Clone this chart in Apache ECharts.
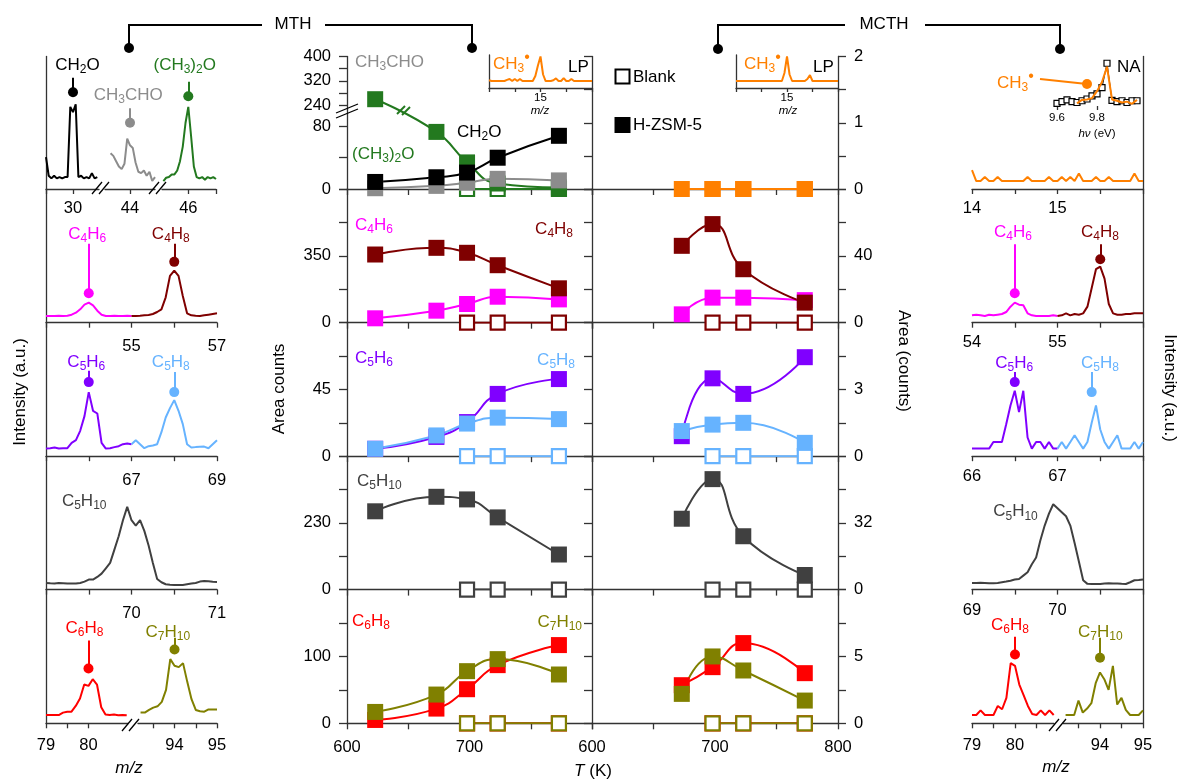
<!DOCTYPE html>
<html>
<head>
<meta charset="utf-8">
<script src="https://cdn.jsdelivr.net/npm/echarts@6.0.0/dist/echarts.min.js"></script>
<style>
html,body{margin:0;padding:0;background:#fff;}
#chart{width:1179px;height:781px;}
</style>
</head>
<body>
<div id="chart"></div>
<script>
// ======================= DATA =======================
// Middle panels: temperatures (K)
const T_MTH = [623, 673, 698, 723, 773];
const T_MCTH = [673, 698, 723, 773];
const T_BLANK = [698, 723, 773];
const BLANK_VALUES = [0, 0, 0];

// MTH, H-ZSM-5 (left axis, area counts)
const MTH_CH3OCH3 = [260, 73, 34, 7, 2];
const MTH_CH3CHO = [1, 4, 8, 13, 11];
const MTH_CH2O = [9, 15, 21, 40, 68];
const MTH_C4H6 = [23, 63, 98, 136, 122];
const MTH_C4H8 = [357, 392, 366, 301, 180];
const MTH_C5H6 = [5, 13, 23, 42, 52];
const MTH_C5H8 = [5, 14, 22, 26, 25];
const MTH_C5H10 = [270, 320, 311, 249, 121];
const MTH_C6H8 = [5, 22, 51, 87, 117];
const MTH_C7H10 = [17, 43, 78, 96, 73];

// MCTH, H-ZSM-5 (right axis, area counts)
const MCTH_CH3 = [0, 0, 0, 0];
const MCTH_C4H6 = [5, 15, 15, 13.5];
const MCTH_C4H8 = [46, 59, 32, 12];
const MCTH_C5H6 = [0.9, 3.5, 2.8, 4.45];
const MCTH_C5H8 = [1.13, 1.42, 1.5, 0.6];
const MCTH_C5H10 = [34, 53, 25.6, 7];
const MCTH_C6H8 = [2.85, 4.2, 6.0, 3.75];
const MCTH_C7H10 = [2.2, 5.0, 3.95, 1.7];

// Tick labels of the middle panels
const T_LABELS_MTH = [600, 700];
const T_LABELS_MCTH = [600, 700, 800];
const MTH_ROW1_TICKS = [0, 40, 80, 240, 280, 320, 360, 400];
const MTH_ROW1_LABELS = [0, 80, 240, 320, 400];
const MTH_Y = [
  {max: 700, interval: 175, labels: [0, 350]},
  {max: 90, interval: 22.5, labels: [0, 45]},
  {max: 460, interval: 115, labels: [0, 230]},
  {max: 200, interval: 50, labels: [0, 100]}
];
const MCTH_Y = [
  {max: 2, interval: 0.5, labels: [0, 1, 2]},
  {max: 80, interval: 20, labels: [0, 40]},
  {max: 6, interval: 1.5, labels: [0, 3]},
  {max: 64, interval: 16, labels: [0, 32]},
  {max: 10, interval: 2.5, labels: [0, 5]}
];

// Mass spectra (normalised intensity), sampled at uniform m/z steps
// left column (MTH)
const L_CH2O = [0.24,0.10,0.08,0.10,0.08,0.09,0.08,0.09,0.09,0.62,0.58,0.64,0.09,0.10,0.08,0.09,0.08,0.12,0.08,0.09]; // 29.0.. step 0.1
const L_CH3CHO = [0.27,0.25,0.21,0.17,0.15,0.19,0.38,0.33,0.31,0.20,0.13,0.12,0.14,0.10,0.13,0.06,0.09]; // 43.3.. step 0.1
const L_CH3OCH3 = [0.06,0.085,0.09,0.11,0.11,0.14,0.21,0.32,0.50,0.62,0.40,0.17,0.09,0.08,0.09,0.07,0.09,0.08,0.09,0.075]; // 45.1.. step 0.1
const L_C4H6 = [0.05,0.05,0.05,0.052,0.05,0.052,0.06,0.075,0.10,0.135,0.15,0.13,0.09,0.06,0.05,0.05,0.052,0.05,0.05,0.052,0.05]; // 53.0.. 0.1
const L_C4H8 = [0.05,0.05,0.052,0.055,0.058,0.065,0.08,0.10,0.19,0.35,0.39,0.35,0.20,0.07,0.055,0.052,0.05,0.055,0.06,0.065,0.07]; // 55.0.. 0.1
const L_C5H6 = [0.057,0.06,0.065,0.057,0.06,0.06,0.10,0.12,0.19,0.30,0.48,0.34,0.32,0.10,0.057,0.06,0.068,0.075,0.09,0.095,0.09]; // 65.0.. 0.1
const L_C5H8 = [0.09,0.12,0.09,0.06,0.075,0.08,0.09,0.18,0.29,0.36,0.42,0.34,0.24,0.09,0.065,0.068,0.07,0.072,0.06,0.09,0.12]; // 67.0.. 0.1
const L_C5H10 = [0.05,0.047,0.045,0.05,0.048,0.045,0.045,0.045,0.05,0.06,0.075,0.075,0.095,0.12,0.16,0.20,0.30,0.40,0.52,0.62,0.52,0.48,0.52,0.44,0.33,0.20,0.08,0.055,0.04,0.037,0.035,0.035,0.035,0.04,0.045,0.05,0.06,0.065,0.062,0.058,0.057]; // 69.0.. 0.05
const L_C6H8 = [0.062,0.062,0.062,0.062,0.08,0.087,0.087,0.13,0.185,0.29,0.28,0.33,0.29,0.12,0.065,0.062,0.065,0.06,0.062,0.06]; // 79.0.. 0.1
const L_C7H10 = [0.08,0.08,0.10,0.117,0.127,0.16,0.25,0.48,0.43,0.42,0.45,0.31,0.18,0.10,0.09,0.087,0.104,0.104,0.104]; // 93.2.. 0.1
// right column (MCTH)
const R_CH3 = [0.143,0.06,0.06,0.09,0.06,0.06,0.09,0.06,0.06,0.06,0.06,0.06,0.06,0.09,0.06,0.06,0.06,0.06,0.09,0.06,0.06,0.09,0.06,0.09,0.06,0.117,0.06,0.06,0.06,0.09,0.06,0.06,0.09,0.06,0.06,0.06,0.06,0.06,0.117,0.06,0.06]; // 14.0.. 0.05
const R_C4H6 = [0.055,0.06,0.055,0.05,0.06,0.055,0.06,0.065,0.08,0.12,0.15,0.135,0.13,0.07,0.055,0.05,0.05,0.05,0.05,0.055,0.05]; // 54.0.. 0.05
const R_C4H8 = [0.05,0.055,0.07,0.055,0.065,0.06,0.07,0.12,0.26,0.40,0.42,0.33,0.14,0.07,0.06,0.06,0.065,0.065,0.07,0.07,0.07]; // 55.0.. 0.05
const R_C5H6 = [0.057,0.057,0.057,0.057,0.057,0.107,0.107,0.107,0.24,0.38,0.49,0.33,0.49,0.14,0.057,0.107,0.107,0.057,0.107,0.057,0.057]; // 66.0.. 0.05
const R_C5H8 = [0.057,0.107,0.057,0.107,0.157,0.107,0.057,0.107,0.25,0.38,0.20,0.107,0.057,0.107,0.157,0.057,0.057,0.057,0.107,0.057,0.107]; // 67.0.. 0.05
const R_C5H10 = [0.05,0.05,0.052,0.05,0.048,0.047,0.05,0.055,0.06,0.067,0.075,0.08,0.105,0.13,0.19,0.24,0.37,0.48,0.57,0.64,0.61,0.58,0.55,0.48,0.35,0.21,0.07,0.043,0.042,0.042,0.042,0.045,0.048,0.045,0.045,0.043,0.042,0.055,0.07,0.072,0.075]; // 69.0.. 0.05
const R_C6H8 = [0.062,0.062,0.097,0.062,0.062,0.062,0.13,0.105,0.19,0.45,0.43,0.29,0.21,0.13,0.07,0.062,0.097,0.062,0.097,0.062]; // 79.0.. 0.1
const R_C7H10 = [0.062,0.062,0.062,0.17,0.08,0.11,0.15,0.30,0.38,0.33,0.25,0.43,0.14,0.19,0.10,0.062,0.062,0.062,0.097]; // 93.2.. 0.1
// photoionisation-energy scan of CH3 (NA inset)
const NA_SCAN_SQUARES = [0.06,0.10,0.14,0.10,0.08,0.12,0.16,0.23,0.28,0.42,0.98,0.13,0.10,0.12,0.08,0.12,0.12]; // 9.600.. 0.025 eV
const NA_SCAN_LINE = [0.06,0.14,0.15,0.18,0.34,0.55,0.90,0.15,0.12,0.08,0.10,0.05,0.14]; // 9.700.. 0.025 eV
// LP insets (CH3 at m/z 15)
const LP_MTH = [0.26,0.233,0.233,0.233,0.233,0.233,0.233,0.27,0.30,0.233,0.30,0.233,0.30,0.233,0.233,0.233,0.233,0.233,0.40,0.75,1.05,0.45,0.233,0.233,0.233,0.26,0.32,0.233,0.233,0.33,0.233,0.233,0.30,0.233,0.233,0.233,0.233,0.233,0.233,0.233,0.233]; // 14.0.. 0.05
const LP_MCTH = [0.233,0.233,0.233,0.233,0.233,0.233,0.233,0.233,0.233,0.233,0.233,0.233,0.233,0.233,0.233,0.233,0.233,0.233,0.233,0.5,1.05,0.45,0.233,0.233,0.233,0.233,0.233,0.233,0.30,0.43,0.233,0.233,0.233,0.233,0.233,0.233,0.233,0.233,0.233,0.233,0.233]; // 14.0.. 0.05

// Peak markers: [m/z, dot level, stem top]
const PK_L_CH2O = [30, 0.73, 0.84];
const PK_L_CH3CHO = [44, 0.50, 0.61];
const PK_L_CH3OCH3 = [46, 0.70, 0.81];
const PK_L_C4H6 = [54, 0.22, 0.59];
const PK_L_C4H8 = [56, 0.455, 0.59];
const PK_L_C5H6 = [66, 0.555, 0.64];
const PK_L_C5H8 = [68, 0.48, 0.63];
const PK_L_C6H8 = [80, 0.41, 0.62];
const PK_L_C7H10 = [94, 0.552, 0.64];
const PK_R_C4H6 = [54.5, 0.22, 0.587];
const PK_R_C4H8 = [55.5, 0.475, 0.587];
const PK_R_C5H6 = [66.5, 0.555, 0.63];
const PK_R_C5H8 = [67.4, 0.48, 0.63];
const PK_R_C6H8 = [80, 0.515, 0.647];
const PK_R_C7H10 = [94, 0.49, 0.64];

// ======================= STYLE / LAYOUT =======================
const FONT = "'Liberation Sans', Arial, Helvetica, sans-serif";
const AXC = '#333333';
const COL = {
  dme: '#23791f', ach: '#8c8c8c', fa: '#000000', c4h6: '#ff00ff', c4h8: '#7f0000',
  c5h6: '#8000ff', c5h8: '#66b3ff', c5h10: '#404040', c6h8: '#ff0000', c7h10: '#808000', ch3: '#ff8000'
};
const ROWS = [56.5, 189, 322.7, 456.2, 589.6, 723.3];

function merge(a, b) {
  const o = Object.assign({}, a);
  for (const k in b) {
    const bv = b[k], av = a ? a[k] : undefined;
    if (bv && typeof bv === 'object' && !Array.isArray(bv) && av && typeof av === 'object' && !Array.isArray(av)) o[k] = merge(av, bv);
    else o[k] = bv;
  }
  return o;
}
const near = (list, v) => list.some(x => Math.abs(x - v) < 1e-6);
const fmtNum = v => String(Math.round(v * 1000) / 1000);

const option = {
  animation: false,
  backgroundColor: '#ffffff',
  textStyle: {fontFamily: FONT},
  grid: [], xAxis: [], yAxis: [], series: [],
  graphic: {elements: []}
};
const G = option.graphic.elements;

function addGrid(left, top, width, height) {
  option.grid.push({left, top, width, height, show: false, containLabel: false, outerBoundsMode: 'none'});
  return option.grid.length - 1;
}
const baseAxis = {
  type: 'value',
  axisLine: {show: true, onZero: false, lineStyle: {color: AXC, width: 1.3}},
  axisTick: {show: true, inside: false, length: 5, lineStyle: {color: AXC, width: 1.3}},
  axisLabel: {show: false, color: '#000', fontSize: 16.5, fontFamily: FONT, margin: 12, hideOverlap: false},
  splitLine: {show: false}, minorTick: {show: false}, splitArea: {show: false}
};
function addX(gi, cfg) { option.xAxis.push(merge(merge(baseAxis, {gridIndex: gi, position: 'bottom'}), cfg)); return option.xAxis.length - 1; }
function addY(gi, cfg) { option.yAxis.push(merge(merge(baseAxis, {gridIndex: gi, position: 'left'}), cfg)); return option.yAxis.length - 1; }

// ---------- middle panels ----------
function dBreak(v) { return v <= 120 ? v : 107 + (v - 240) * 0.39; } // broken y-axis of top MTH panel
const mthAx = [], mcthAx = [];
for (let r = 0; r < 5; r++) {
  const top = ROWS[r], h = ROWS[r + 1] - ROWS[r];
  const bottomRow = r === 4;
  const g1 = addGrid(347, top, 245, h);
  const x1 = addX(g1, {min: 600, max: 800, interval: 50, axisTick: {length: 6},
    axisLabel: {show: bottomRow, margin: 16, formatter: v => near(T_LABELS_MTH, v) ? String(v) : ''}});
  let ycfg;
  if (r === 0) {
    ycfg = {min: 0, max: dBreak(400), axisTick: {length: 8, customValues: MTH_ROW1_TICKS.map(dBreak)},
      axisLabel: {show: true, margin: 16, customValues: MTH_ROW1_LABELS.map(dBreak),
        formatter: v => { const l = MTH_ROW1_LABELS.find(q => Math.abs(dBreak(q) - v) < 1e-3); return l === undefined ? '' : String(l); }}};
  } else {
    const s = MTH_Y[r - 1];
    ycfg = {min: 0, max: s.max, interval: s.interval, axisTick: {length: 8},
      axisLabel: {show: true, margin: 16, formatter: v => near(s.labels, v) ? String(v) : ''}};
  }
  const y1 = addY(g1, ycfg);
  mthAx.push({xi: x1, yi: y1});

  const g2 = addGrid(592, top, 246, h);
  const x2 = addX(g2, {min: 600, max: 800, interval: 50, axisTick: {length: 6},
    axisLabel: {show: bottomRow, margin: 16, formatter: v => near(T_LABELS_MCTH, v) ? String(v) : ''}});
  const s2 = MCTH_Y[r];
  addY(g2, {min: 0, max: s2.max, interval: s2.interval, position: 'left', axisTick: {length: 8}, axisLabel: {show: false}});
  const y2 = addY(g2, {min: 0, max: s2.max, interval: s2.interval, position: 'right', axisTick: {length: 8},
    axisLabel: {show: true, margin: 16, formatter: v => near(s2.labels, v) ? String(v) : ''}});
  mcthAx.push({xi: x2, yi: y2});
}

function fitLine(ax, xs, ys, color, extra) {
  option.series.push(merge({
    type: 'line', xAxisIndex: ax.xi, yAxisIndex: ax.yi,
    data: xs.map((x, i) => [x, ys[i]]), smooth: 0.5,
    symbol: 'rect', symbolSize: 16, showSymbol: true, showAllSymbol: true,
    lineStyle: {color, width: 2}, itemStyle: {color}, silent: true, animation: false, z: 3
  }, extra || {}));
}
function blankLine(ax, color) {
  fitLine(ax, T_BLANK, BLANK_VALUES, color, {smooth: false, symbolSize: 14,
    itemStyle: {color: '#ffffff', borderColor: color, borderWidth: 2.2}});
}
// row 1
blankLine(mthAx[0], COL.dme);
fitLine(mthAx[0], T_MTH, MTH_CH3OCH3.map(dBreak), COL.dme);
fitLine(mthAx[0], T_MTH, MTH_CH3CHO.map(dBreak), COL.ach);
fitLine(mthAx[0], T_MTH, MTH_CH2O.map(dBreak), COL.fa);
blankLine(mcthAx[0], COL.ch3);
fitLine(mcthAx[0], T_MCTH, MCTH_CH3, COL.ch3, {smooth: false});
// row 2
blankLine(mthAx[1], COL.c4h8);
fitLine(mthAx[1], T_MTH, MTH_C4H6, COL.c4h6);
fitLine(mthAx[1], T_MTH, MTH_C4H8, COL.c4h8);
blankLine(mcthAx[1], COL.c4h8);
fitLine(mcthAx[1], T_MCTH, MCTH_C4H6, COL.c4h6);
fitLine(mcthAx[1], T_MCTH, MCTH_C4H8, COL.c4h8);
// row 3
blankLine(mthAx[2], COL.c5h8);
fitLine(mthAx[2], T_MTH, MTH_C5H6, COL.c5h6);
fitLine(mthAx[2], T_MTH, MTH_C5H8, COL.c5h8);
blankLine(mcthAx[2], COL.c5h8);
fitLine(mcthAx[2], T_MCTH, MCTH_C5H6, COL.c5h6);
fitLine(mcthAx[2], T_MCTH, MCTH_C5H8, COL.c5h8);
// row 4
blankLine(mthAx[3], COL.c5h10);
fitLine(mthAx[3], T_MTH, MTH_C5H10, COL.c5h10);
blankLine(mcthAx[3], COL.c5h10);
fitLine(mcthAx[3], T_MCTH, MCTH_C5H10, COL.c5h10);
// row 5
blankLine(mthAx[4], COL.c6h8);
blankLine(mthAx[4], COL.c7h10);
fitLine(mthAx[4], T_MTH, MTH_C6H8, COL.c6h8);
fitLine(mthAx[4], T_MTH, MTH_C7H10, COL.c7h10);
blankLine(mcthAx[4], COL.c6h8);
blankLine(mcthAx[4], COL.c7h10);
fitLine(mcthAx[4], T_MCTH, MCTH_C6H8, COL.c6h8);
fitLine(mcthAx[4], T_MCTH, MCTH_C7H10, COL.c7h10);

// ---------- spectra panels ----------
function specPanel(o) {
  const top = o.top !== undefined ? o.top : ROWS[o.row];
  const h = o.height !== undefined ? o.height : ROWS[o.row + 1] - top;
  const gi = addGrid(o.left, top, o.width, h);
  const xi = addX(gi, {min: o.min, max: o.max,
    axisLine: {show: o.xLine !== false},
    axisTick: {customValues: o.ticks, length: o.tickLen || 5},
    axisLabel: {show: true, customValues: o.labels, margin: o.margin, fontSize: o.fontSize || 16.5,
      formatter: o.fmt || (v => fmtNum(v))}});
  const yi = addY(gi, {min: 0, max: o.ymax || 1, position: o.yLine || 'left',
    axisLine: {show: !!o.yLine}, axisTick: {show: false}, axisLabel: {show: false}});
  return {xi, yi};
}
function specLine(ax, ys, start, step, color, peak, extra) {
  const s = {
    type: 'line', xAxisIndex: ax.xi, yAxisIndex: ax.yi,
    data: ys.map((y, i) => [+(start + i * step).toFixed(4), y]),
    symbol: 'none', showSymbol: false, lineStyle: {color, width: 2}, itemStyle: {color},
    silent: true, animation: false, z: 3
  };
  if (peak) {
    s.markLine = {silent: true, animation: false, symbol: ['circle', 'none'], symbolSize: 10,
      label: {show: false}, lineStyle: {color, width: 2, type: 'solid'},
      data: [[{coord: [peak[0], peak[1]]}, {coord: [peak[0], peak[2]]}]]};
  }
  option.series.push(extra ? merge(s, extra) : s);
}

// Left column (MTH)
const l1a = specPanel({row: 0, left: 46, width: 53, min: 29, max: 30.963, ticks: [29, 30], labels: [30], margin: 11, yLine: 'left'});
const l1b = specPanel({row: 0, left: 105, width: 50, min: 43.1, max: 44.9, ticks: [44], labels: [44], margin: 11});
const l1c = specPanel({row: 0, left: 162, width: 54, min: 45.05, max: 47, ticks: [46, 47], labels: [46], margin: 11});
specLine(l1a, L_CH2O, 29.0, 0.1, COL.fa, PK_L_CH2O);
specLine(l1b, L_CH3CHO, 43.3, 0.1, COL.ach, PK_L_CH3CHO);
specLine(l1c, L_CH3OCH3, 45.1, 0.1, COL.dme, PK_L_CH3OCH3);

const l2 = specPanel({row: 1, left: 46, width: 171, min: 53, max: 57, ticks: [53, 54, 55, 56, 57], labels: [55, 57], margin: 15, yLine: 'left'});
specLine(l2, L_C4H6, 53.0, 0.1, COL.c4h6, PK_L_C4H6);
specLine(l2, L_C4H8, 55.0, 0.1, COL.c4h8, PK_L_C4H8);

const l3 = specPanel({row: 2, left: 46, width: 171, min: 65, max: 69, ticks: [65, 66, 67, 68, 69], labels: [67, 69], margin: 16, yLine: 'left'});
specLine(l3, L_C5H6, 65.0, 0.1, COL.c5h6, PK_L_C5H6);
specLine(l3, L_C5H8, 67.0, 0.1, COL.c5h8, PK_L_C5H8);

const l4 = specPanel({row: 3, left: 46, width: 171, min: 69, max: 71, ticks: [69, 69.5, 70, 70.5, 71], labels: [70, 71], margin: 15, yLine: 'left'});
specLine(l4, L_C5H10, 69.0, 0.05, COL.c5h10, null);

const l5a = specPanel({row: 4, left: 46, width: 82, min: 79, max: 80.93, ticks: [79, 79.5, 80], labels: [79, 80], margin: 14, yLine: 'left'});
const l5b = specPanel({row: 4, left: 138, width: 79, min: 93.14, max: 95, ticks: [93.5, 94, 94.5, 95], labels: [94, 95], margin: 14});
specLine(l5a, L_C6H8, 79.0, 0.1, COL.c6h8, PK_L_C6H8);
specLine(l5b, L_C7H10, 93.2, 0.1, COL.c7h10, PK_L_C7H10);

// Right column (MCTH)
const r1 = specPanel({row: 0, left: 972, width: 171, min: 14, max: 16, ticks: [14, 14.5, 15, 15.5, 16], labels: [14, 15], margin: 11, yLine: 'right'});
specLine(r1, R_CH3, 14.0, 0.05, COL.ch3, null);
const r2 = specPanel({row: 1, left: 972, width: 171, min: 54, max: 56, ticks: [54, 54.5, 55, 55.5, 56], labels: [54, 55], margin: 11, yLine: 'right'});
specLine(r2, R_C4H6, 54.0, 0.05, COL.c4h6, PK_R_C4H6);
specLine(r2, R_C4H8, 55.0, 0.05, COL.c4h8, PK_R_C4H8);
const r3 = specPanel({row: 2, left: 972, width: 171, min: 66, max: 68, ticks: [66, 66.5, 67, 67.5, 68], labels: [66, 67], margin: 12, yLine: 'right'});
specLine(r3, R_C5H6, 66.0, 0.05, COL.c5h6, PK_R_C5H6);
specLine(r3, R_C5H8, 67.0, 0.05, COL.c5h8, PK_R_C5H8);
const r4 = specPanel({row: 3, left: 972, width: 171, min: 69, max: 71, ticks: [69, 69.5, 70, 70.5, 71], labels: [69, 70], margin: 12, yLine: 'right'});
specLine(r4, R_C5H10, 69.0, 0.05, COL.c5h10, null);
const r5a = specPanel({row: 4, left: 972, width: 82, min: 79, max: 80.907, ticks: [79, 79.5, 80, 80.5], labels: [79, 80], margin: 14});
const r5b = specPanel({row: 4, left: 1063, width: 80, min: 93.14, max: 95, ticks: [93.5, 94, 94.5, 95], labels: [94, 95], margin: 14, yLine: 'right'});
specLine(r5a, R_C6H8, 79.0, 0.1, COL.c6h8, PK_R_C6H8);
specLine(r5b, R_C7H10, 93.2, 0.1, COL.c7h10, PK_R_C7H10);

// NA inset (photon-energy scan)
const na = specPanel({top: 58, height: 48, left: 1057, width: 80, min: 9.6, max: 10.0, ticks: [9.6, 9.8], labels: [9.6, 9.8],
  margin: 6, fontSize: 11.5, tickLen: 4, xLine: false, ymax: 1.1, fmt: v => v.toFixed(1)});
specLine(na, NA_SCAN_SQUARES, 9.6, 0.025, '#000000', null,
  {symbol: 'rect', symbolSize: 6, showSymbol: true, lineStyle: {width: 1}, itemStyle: {color: '#ffffff', borderColor: '#000000', borderWidth: 1.2}});
specLine(na, NA_SCAN_LINE, 9.7, 0.025, COL.ch3, null, {z: 4});

// LP insets
const lpA = specPanel({top: 55, height: 33, left: 489, width: 103, min: 14, max: 16, ticks: [14, 14.5, 15, 15.5, 16], labels: [15],
  margin: 4, fontSize: 11.5, tickLen: 4, yLine: 'left', ymax: 1.1});
specLine(lpA, LP_MTH, 14.0, 0.05, COL.ch3, null);
const lpB = specPanel({top: 55, height: 33, left: 736, width: 102, min: 14, max: 16, ticks: [14, 14.5, 15, 15.5, 16], labels: [15],
  margin: 4, fontSize: 11.5, tickLen: 4, yLine: 'left', ymax: 1.1});
specLine(lpB, LP_MCTH, 14.0, 0.05, COL.ch3, null);

// ======================= TEXT & DECORATION =======================
function rich(size, color) {
  const sub = Math.round(size * 0.7);
  return {
    s: {fontSize: sub, fontFamily: FONT, fill: color, padding: [Math.round(size * 0.5), 0, 0, 0]},
    d: {fontSize: Math.round(size * 0.95), fontFamily: FONT, fill: color, padding: [0, 0, Math.round(size * 0.75), 0]},
    i: {fontSize: size, fontFamily: FONT, fill: color, fontStyle: 'italic'}
  };
}
const chem = s => s.replace(/(\d+)/g, '{s|$1}');
function T(x, y, text, o) {
  o = o || {};
  const size = o.size || 17, color = o.color || '#000';
  G.push({type: 'text', x, y, rotation: o.rot || 0, silent: true, z: 20,
    style: {text, fill: color, fontSize: size, fontFamily: FONT, fontStyle: o.italic ? 'italic' : 'normal',
      align: o.align || 'center', verticalAlign: 'middle', rich: rich(size, color)}});
}
function L(pts, color, w) {
  G.push({type: 'polyline', silent: true, z: 20, shape: {points: pts}, style: {stroke: color || '#000', lineWidth: w || 2, fill: null}});
}
function dot(cx, cy, r, color) {
  G.push({type: 'circle', silent: true, z: 20, shape: {cx, cy, r}, style: {fill: color || '#000'}});
}

// Header brackets
T(293, 24, 'MTH');
L([[262, 25], [129, 25], [129, 47]]); dot(129, 48, 5);
L([[325, 25], [472, 25], [472, 47]]); dot(472, 48, 5);
T(884, 24, 'MCTH');
L([[845, 25], [718, 25], [718, 48]]); dot(718, 49, 5);
L([[925, 25], [1060, 25], [1060, 48]]); dot(1060, 49, 5);

// Legend
G.push({type: 'rect', silent: true, z: 20, shape: {x: 615.5, y: 69.5, width: 14, height: 14}, style: {fill: '#fff', stroke: '#000', lineWidth: 2}});
G.push({type: 'rect', silent: true, z: 20, shape: {x: 614.5, y: 117, width: 16, height: 16}, style: {fill: '#000'}});
T(633, 77, 'Blank', {align: 'left'});
T(633, 125, 'H-ZSM-5', {align: 'left'});

// Axis titles
T(279, 389, 'Area counts', {rot: Math.PI / 2});
T(904, 361, 'Area (counts)', {rot: -Math.PI / 2});
T(20, 392, 'Intensity (a.u.)', {rot: Math.PI / 2});
T(1170, 388, 'Intensity (a.u.)', {rot: -Math.PI / 2});
T(593, 771, '{i|T} (K)');
T(129, 768, 'm/z', {italic: true});
T(1056, 767, 'm/z', {italic: true});

// Middle species labels
T(355, 62, chem('CH3CHO'), {align: 'left', color: COL.ach});
T(352, 154.5, chem('(CH3)2O'), {align: 'left', color: COL.dme});
T(457, 132, chem('CH2O'), {align: 'left', color: COL.fa});
T(355, 225, chem('C4H6'), {align: 'left', color: COL.c4h6});
T(573, 229, chem('C4H8'), {align: 'right', color: COL.c4h8});
T(355, 358.5, chem('C5H6'), {align: 'left', color: COL.c5h6});
T(575, 360, chem('C5H8'), {align: 'right', color: COL.c5h8});
T(357, 481, chem('C5H10'), {align: 'left', color: COL.c5h10});
T(352, 621, chem('C6H8'), {align: 'left', color: COL.c6h8});
T(582, 622.5, chem('C7H10'), {align: 'right', color: COL.c7h10});

// Left spectra labels
T(77.5, 65, chem('CH2O'), {color: COL.fa});
T(128.3, 95, chem('CH3CHO'), {color: COL.ach});
T(184.7, 65, chem('(CH3)2O'), {color: COL.dme});
T(87.2, 234, chem('C4H6'), {color: COL.c4h6});
T(170.8, 234, chem('C4H8'), {color: COL.c4h8});
T(86.3, 362, chem('C5H6'), {color: COL.c5h6});
T(170.8, 362, chem('C5H8'), {color: COL.c5h8});
T(84.2, 501.5, chem('C5H10'), {color: COL.c5h10});
T(84.5, 628.3, chem('C6H8'), {color: COL.c6h8});
T(167.8, 632.5, chem('C7H10'), {color: COL.c7h10});

// Right spectra labels
T(1013, 232.5, chem('C4H6'), {color: COL.c4h6});
T(1100, 232.5, chem('C4H8'), {color: COL.c4h8});
T(1014.2, 363, chem('C5H6'), {color: COL.c5h6});
T(1100, 363, chem('C5H8'), {color: COL.c5h8});
T(1015.5, 511.7, chem('C5H10'), {color: COL.c5h10});
T(1010, 625, chem('C6H8'), {color: COL.c6h8});
T(1100.3, 632.5, chem('C7H10'), {color: COL.c7h10});

// Insets text
T(493, 64.5, 'CH{s|3}{d|•}', {align: 'left', color: COL.ch3});
T(568, 67, 'LP', {align: 'left'});
T(540, 111, 'm/z', {italic: true, size: 11.5});
T(744, 64, 'CH{s|3}{d|•}', {align: 'left', color: COL.ch3});
T(813, 67, 'LP', {align: 'left'});
T(788, 111, 'm/z', {italic: true, size: 11.5});
T(1117, 67, 'NA', {align: 'left'});
T(1097, 134, '{i|hν} (eV)', {size: 11.5});
T(997, 83, 'CH{s|3}{d|•}', {align: 'left', color: COL.ch3});
L([[1040, 79], [1087, 84]], COL.ch3, 2); dot(1087, 84, 5, COL.ch3);

// Axis break marks
L([[92, 194], [102, 182]], '#000', 1.3); L([[99, 194], [109, 182]], '#000', 1.3);
L([[149, 194], [159, 182]], '#000', 1.3); L([[156, 194], [166, 182]], '#000', 1.3);
L([[122, 731], [132, 719]], '#000', 1.3); L([[129, 731], [139, 719]], '#000', 1.3);
L([[1049, 731], [1059, 719]], '#000', 1.3); L([[1056, 731], [1066, 719]], '#000', 1.3);
L([[336, 118], [358, 109]], '#000', 1.3); L([[336, 113], [358, 104]], '#000', 1.3);
L([[397, 114], [405, 106]], COL.dme, 2); L([[402, 115], [410, 107]], COL.dme, 2);

const chart = echarts.init(document.getElementById('chart'), null, {renderer: 'canvas'});
chart.setOption(option);
</script>
</body>
</html>
